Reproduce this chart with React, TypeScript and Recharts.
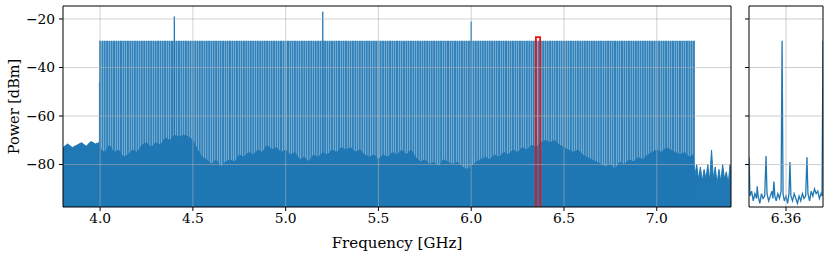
import React from 'react';
import { ComposedChart, Line, Area, XAxis, YAxis, ReferenceLine, Label } from 'recharts';

const BLUE = '#1f77b4';
const GRID = '#b0b0b0';
const FONT = '"DejaVu Serif", serif';
const FLOOR = -100; // below the visible range, clipped away

// comb tones (MHz), all at the same level
const toneFreqsMHz = [
  4000, 4012.5, 4025, 4037.5, 4050, 4062.5, 4075, 4087.5,
  4100, 4112.5, 4125, 4137.5, 4150, 4162.5, 4175, 4187.5,
  4200, 4212.5, 4225, 4237.5, 4250, 4262.5, 4275, 4287.5,
  4300, 4312.5, 4325, 4337.5, 4350, 4362.5, 4375, 4387.5,
  4400, 4412.5, 4425, 4437.5, 4450, 4462.5, 4475, 4487.5,
  4500, 4512.5, 4525, 4537.5, 4550, 4562.5, 4575, 4587.5,
  4600, 4612.5, 4625, 4637.5, 4650, 4662.5, 4675, 4687.5,
  4700, 4712.5, 4725, 4737.5, 4750, 4762.5, 4775, 4787.5,
  4800, 4812.5, 4825, 4837.5, 4850, 4862.5, 4875, 4887.5,
  4900, 4912.5, 4925, 4937.5, 4950, 4962.5, 4975, 4987.5,
  5000, 5012.5, 5025, 5037.5, 5050, 5062.5, 5075, 5087.5,
  5100, 5112.5, 5125, 5137.5, 5150, 5162.5, 5175, 5187.5,
  5200, 5212.5, 5225, 5237.5, 5250, 5262.5, 5275, 5287.5,
  5300, 5312.5, 5325, 5337.5, 5350, 5362.5, 5375, 5387.5,
  5400, 5412.5, 5425, 5437.5, 5450, 5462.5, 5475, 5487.5,
  5500, 5512.5, 5525, 5537.5, 5550, 5562.5, 5575, 5587.5,
  5600, 5612.5, 5625, 5637.5, 5650, 5662.5, 5675, 5687.5,
  5700, 5712.5, 5725, 5737.5, 5750, 5762.5, 5775, 5787.5,
  5800, 5812.5, 5825, 5837.5, 5850, 5862.5, 5875, 5887.5,
  5900, 5912.5, 5925, 5937.5, 5950, 5962.5, 5975, 5987.5,
  6000, 6012.5, 6025, 6037.5, 6050, 6062.5, 6075, 6087.5,
  6100, 6112.5, 6125, 6137.5, 6150, 6162.5, 6175, 6187.5,
  6200, 6212.5, 6225, 6237.5, 6250, 6262.5, 6275, 6287.5,
  6300, 6312.5, 6325, 6337.5, 6350, 6362.5, 6375, 6387.5,
  6400, 6412.5, 6425, 6437.5, 6450, 6462.5, 6475, 6487.5,
  6500, 6512.5, 6525, 6537.5, 6550, 6562.5, 6575, 6587.5,
  6600, 6612.5, 6625, 6637.5, 6650, 6662.5, 6675, 6687.5,
  6700, 6712.5, 6725, 6737.5, 6750, 6762.5, 6775, 6787.5,
  6800, 6812.5, 6825, 6837.5, 6850, 6862.5, 6875, 6887.5,
  6900, 6912.5, 6925, 6937.5, 6950, 6962.5, 6975, 6987.5,
  7000, 7012.5, 7025, 7037.5, 7050, 7062.5, 7075, 7087.5,
  7100, 7112.5, 7125, 7137.5, 7150, 7162.5, 7175, 7187.5,
  7200,
];
const combLevel = -29;

// spurs sticking out of the comb (GHz, dBm)
const spurs = [
  { f: 3.997, p: -46 },
  { f: 4.4, p: -19 },
  { f: 5.2, p: -17 },
  { f: 6.0, p: -21 },
];

// top of the dense noise floor (GHz, dBm)
const noiseFloor: [number, number][] = [
  [3.8, -73], [3.825, -71.5], [3.85, -73], [3.875, -72], [3.9, -71], [3.925, -72.5], [3.95, -70.5], [3.975, -71.5],
  [3.995, -71], [4.005, -74], [4.025, -75], [4.05, -72], [4.075, -75], [4.1, -74], [4.125, -77], [4.15, -76], [4.175, -74],
  [4.2, -75], [4.225, -72], [4.25, -71], [4.275, -73], [4.3, -71], [4.325, -72], [4.35, -69], [4.375, -70],
  [4.4, -68], [4.425, -68.5], [4.45, -68], [4.475, -68.5], [4.5, -70], [4.525, -74], [4.55, -77], [4.575, -78],
  [4.6, -80], [4.625, -78], [4.65, -81], [4.675, -79], [4.7, -78], [4.725, -79], [4.75, -76], [4.775, -77],
  [4.8, -75], [4.825, -76], [4.85, -74], [4.875, -75], [4.9, -72], [4.925, -74], [4.95, -73], [4.975, -75],
  [5.0, -74], [5.025, -76], [5.05, -75], [5.075, -78], [5.1, -77], [5.125, -79], [5.15, -76], [5.175, -77],
  [5.2, -75], [5.225, -76], [5.25, -74], [5.275, -75], [5.3, -73], [5.325, -74], [5.35, -73], [5.375, -75],
  [5.4, -74], [5.425, -76], [5.45, -77], [5.475, -76], [5.5, -78], [5.525, -76], [5.55, -77], [5.575, -75],
  [5.6, -76], [5.625, -74], [5.65, -76], [5.675, -74], [5.7, -77], [5.725, -79], [5.75, -78], [5.775, -80],
  [5.8, -79], [5.825, -81], [5.85, -78], [5.875, -79], [5.9, -80], [5.925, -79], [5.95, -81], [5.975, -82],
  [6.0, -81], [6.025, -79], [6.05, -78], [6.075, -77], [6.1, -78], [6.125, -76], [6.15, -77], [6.175, -75],
  [6.2, -76], [6.225, -74], [6.25, -75], [6.275, -73], [6.3, -74], [6.325, -72], [6.35, -73], [6.375, -71],
  [6.4, -70], [6.425, -71], [6.45, -70], [6.475, -72], [6.5, -73], [6.525, -74], [6.55, -75], [6.575, -74],
  [6.6, -76], [6.625, -77], [6.65, -78], [6.675, -79], [6.7, -80], [6.725, -81], [6.75, -80], [6.775, -82],
  [6.8, -79], [6.825, -80], [6.85, -78], [6.875, -79], [6.9, -77], [6.925, -78], [6.95, -76], [6.975, -75],
  [7.0, -74], [7.025, -75], [7.05, -73], [7.075, -74], [7.1, -75], [7.125, -76], [7.15, -75], [7.175, -77],
  [7.195, -76], [7.205, -85], [7.215, -80], [7.225, -86], [7.235, -81], [7.245, -87], [7.255, -82], [7.265, -86],
  [7.275, -80], [7.285, -87], [7.295, -74], [7.305, -86], [7.315, -81], [7.325, -88], [7.335, -82], [7.345, -87],
  [7.355, -80], [7.365, -86], [7.375, -83], [7.385, -88], [7.395, -80], [7.4, -86],
];

// zoomed view around one tone (GHz, dBm)
const insetTrace: [number, number][] = [
  [6.3487, -77], [6.349, -93], [6.3495, -91], [6.35, -95], [6.3505, -92], [6.351, -94], [6.3512, -89],
  [6.3515, -93], [6.352, -96], [6.3525, -92], [6.353, -94], [6.3535, -93], [6.3539, -76.5], [6.3542, -92],
  [6.3547, -95], [6.3552, -93], [6.3557, -91], [6.356, -94], [6.3563, -87], [6.3566, -93], [6.357, -95],
  [6.3575, -92], [6.358, -94], [6.3585, -91], [6.3588, -29], [6.3591, -92], [6.3595, -95], [6.36, -93],
  [6.3605, -96], [6.3609, -92], [6.3612, -79], [6.3615, -93], [6.362, -95], [6.3625, -92], [6.363, -94],
  [6.3635, -96], [6.364, -93], [6.3645, -95], [6.365, -92], [6.3655, -94], [6.366, -93], [6.3664, -77],
  [6.3667, -92], [6.3672, -95], [6.3677, -91], [6.3682, -93], [6.3687, -90], [6.3692, -92], [6.3697, -91],
  [6.3702, -94], [6.3707, -92], [6.371, -93], [6.3713, -29],
];

const mainDomain: [number, number] = [3.8, 7.4];
const insetDomain: [number, number] = [6.3487, 6.3713];
const yDomain: [number, number] = [-97.5, -14.65];
const mainTicksX = [4.0, 4.5, 5.0, 5.5, 6.0, 6.5, 7.0];
const insetTicksX = [6.36];
const ticksY = [-20, -40, -60, -80];
const zoomBoxTop = -27.5;

const combData = toneFreqsMHz.flatMap((m) => [
  { f: m / 1000, p: FLOOR },
  { f: m / 1000, p: combLevel },
  { f: m / 1000, p: FLOOR },
]);
const spurData = spurs.flatMap((s) => [
  { f: s.f, p: FLOOR },
  { f: s.f, p: s.p },
  { f: s.f, p: FLOOR },
]);
const noiseData = noiseFloor.map(([f, p]) => ({ f, p }));
const insetData = insetTrace.map(([f, p]) => ({ f, p }));
// outline of the zoomed span, drawn on top of the spectrum
const zoomBox = [
  { f: insetDomain[0], p: FLOOR },
  { f: insetDomain[0], p: zoomBoxTop },
  { f: insetDomain[1], p: zoomBoxTop },
  { f: insetDomain[1], p: FLOOR },
];

const tickStyle = { fill: '#000', fontSize: 13.8, fontFamily: FONT };
const minus = (v: number) => String(v).replace('-', '\u2212');

export default function App() {
  return (
    <div style={{ position: 'absolute', left: 0, top: 0, width: 830, height: 255, background: '#fff' }}>
      <div style={{ position: 'absolute', left: 0, top: 0 }}>
        <ComposedChart width={740} height={255} margin={{ top: 6, right: 9, bottom: 0, left: 0 }}>
          <XAxis
            dataKey="f"
            type="number"
            domain={mainDomain}
            allowDataOverflow
            ticks={mainTicksX}
            tickFormatter={(v: number) => v.toFixed(1)}
            tick={tickStyle}
            tickSize={4}
            tickMargin={2}
            tickLine={{ stroke: '#000' }}
            axisLine={{ stroke: '#000' }}
            height={48}
          >
            <Label value="Frequency [GHz]" position="insideBottom" offset={7} style={{ fontFamily: FONT, fontSize: 15, fill: '#000' }} />
          </XAxis>
          <YAxis
            dataKey="p"
            type="number"
            domain={yDomain}
            allowDataOverflow
            ticks={ticksY}
            tickFormatter={minus}
            tick={tickStyle}
            tickSize={4}
            tickMargin={4}
            tickLine={{ stroke: '#000' }}
            axisLine={{ stroke: '#000' }}
            width={63}
          >
            <Label
              value="Power [dBm]"
              angle={-90}
              position="insideLeft"
              offset={14}
              style={{ fontFamily: FONT, fontSize: 14.5, fill: '#000', textAnchor: 'middle' }}
            />
          </YAxis>
          <Line data={combData} dataKey="p" stroke={BLUE} strokeWidth={2} strokeOpacity={0.92} dot={false} isAnimationActive={false} />
          <Line data={spurData} dataKey="p" stroke={BLUE} strokeWidth={1.3} dot={false} isAnimationActive={false} />
          <Area data={noiseData} dataKey="p" baseValue={FLOOR} stroke={BLUE} strokeWidth={1} fill={BLUE} fillOpacity={1} isAnimationActive={false} />
          <Line data={zoomBox} dataKey="p" stroke="#f01010" strokeWidth={1.8} dot={false} isAnimationActive={false} />
          {mainTicksX.map((x) => (
            <ReferenceLine key={'gx' + x} x={x} stroke={GRID} strokeWidth={0.8} strokeOpacity={0.7} />
          ))}
          {ticksY.map((y) => (
            <ReferenceLine key={'gy' + y} y={y} stroke={GRID} strokeWidth={0.8} strokeOpacity={0.7} />
          ))}
          <ReferenceLine y={yDomain[1]} stroke="#000" />
          <ReferenceLine x={mainDomain[1]} stroke="#000" />
        </ComposedChart>
      </div>
      <div style={{ position: 'absolute', left: 740, top: 0 }}>
        <ComposedChart width={90} height={255} margin={{ top: 6, right: 7, bottom: 0, left: 0 }}>
          <XAxis
            dataKey="f"
            type="number"
            domain={insetDomain}
            allowDataOverflow
            ticks={insetTicksX}
            tickFormatter={(v: number) => v.toFixed(2)}
            tick={tickStyle}
            tickSize={4}
            tickMargin={2}
            tickLine={{ stroke: '#000' }}
            axisLine={{ stroke: '#000' }}
            height={48}
          />
          <YAxis
            dataKey="p"
            type="number"
            domain={yDomain}
            allowDataOverflow
            ticks={ticksY}
            tickFormatter={() => ''}
            tick={tickStyle}
            tickSize={4}
            tickMargin={0}
            tickLine={{ stroke: '#000' }}
            axisLine={{ stroke: '#000' }}
            width={9}
          />
          <Line data={insetData} dataKey="p" stroke={BLUE} strokeWidth={1.3} dot={false} isAnimationActive={false} />
          {insetTicksX.map((x) => (
            <ReferenceLine key={'ix' + x} x={x} stroke={GRID} strokeWidth={0.8} strokeOpacity={0.8} />
          ))}
          {ticksY.map((y) => (
            <ReferenceLine key={'iy' + y} y={y} stroke={GRID} strokeWidth={0.8} strokeOpacity={0.8} />
          ))}
          <ReferenceLine y={yDomain[1]} stroke="#000" />
          <ReferenceLine x={insetDomain[1]} stroke="#000" />
        </ComposedChart>
      </div>
    </div>
  );
}
